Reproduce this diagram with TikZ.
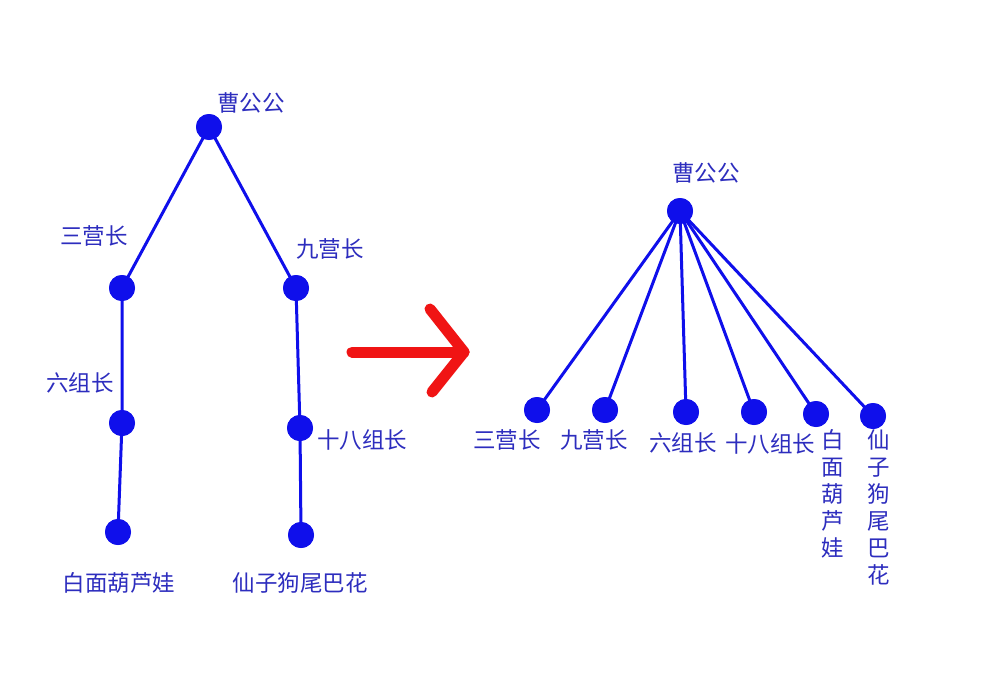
\documentclass[tikz,border=0pt]{standalone}
\usepackage{fontspec}
\newfontfamily\cjk{Noto Sans CJK SC}
\definecolor{nodeblue}{RGB}{15,15,235}
\definecolor{textblue}{RGB}{45,45,190}
\definecolor{arrowred}{RGB}{240,20,20}
\begin{document}
\begin{tikzpicture}[x=1pt,y=-1pt,
  dot/.style={circle,fill=nodeblue,minimum size=26pt,inner sep=0pt},
  edge/.style={draw=nodeblue,line width=3pt},
  lab/.style={text=textblue,font=\cjk\fontsize{22.5}{27}\selectfont,inner sep=0pt},
  vlab/.style={lab,align=center,anchor=north}]
\useasboundingbox (0,0) rectangle (1003,693);
\fill[white] (0,0) rectangle (1003,693);
% left tree
\node[dot] (a) at (209,127) {};
\node[dot] (b) at (122,288) {};
\node[dot] (c) at (296,288) {};
\node[dot] (d) at (122,423) {};
\node[dot] (e) at (300,428) {};
\node[dot] (f) at (118,532) {};
\node[dot] (g) at (301,535) {};
\node[lab] (la) at (251,103) {曹公公};
\node[lab] (lb) at (94,236) {三营长};
\node[lab] (lc) at (330,249) {九营长};
\node[lab] (ld) at (80,383) {六组长};
\node[lab] (le) at (362,440) {十八组长};
\node[lab] (lf) at (119,583) {白面葫芦娃};
\node[lab] (lg) at (300,583) {仙子狗尾巴花};
% right tree
\node[dot] (A) at (680,211) {};
\node[dot] (B) at (537,410) {};
\node[dot] (C) at (605,410) {};
\node[dot] (D) at (686,412) {};
\node[dot] (E) at (754,412) {};
\node[dot] (F) at (816,414) {};
\node[dot] (G) at (873,416) {};
\node[lab] (LA) at (706,173) {曹公公};
\node[lab] (LB) at (507,440) {三营长};
\node[lab] (LC) at (594,440) {九营长};
\node[lab] (LD) at (683,443) {六组长};
\node[lab] (LE) at (770,444) {十八组长};
\node[vlab] (LF) at (833,429) {白\\面\\葫\\芦\\娃};
\node[vlab] (LG) at (879,429) {仙\\子\\狗\\尾\\巴\\花};
% edges
\draw[edge] (a.center) -- (b.center) -- (d.center) -- (f.center);
\draw[edge] (a.center) -- (c.center) -- (e.center) -- (g.center);
\foreach \n in {B,C,D,E,F,G} \draw[edge] (A.center) -- (\n.center);
% redraw dots above edges
\foreach \n in {a,b,c,d,e,f,g,A,B,C,D,E,F,G} \fill[nodeblue] (\n) circle (13pt);
% arrow
\coordinate (s) at (352,352);
\coordinate (t) at (464,352);
\coordinate (h1) at (430,309);
\coordinate (h2) at (432,392);
\draw[arrowred,line width=11pt,line cap=round,line join=round] (s) -- (t);
\draw[arrowred,line width=11pt,line cap=round,line join=round] (h1) -- (t) -- (h2);
\end{tikzpicture}
\end{document}
